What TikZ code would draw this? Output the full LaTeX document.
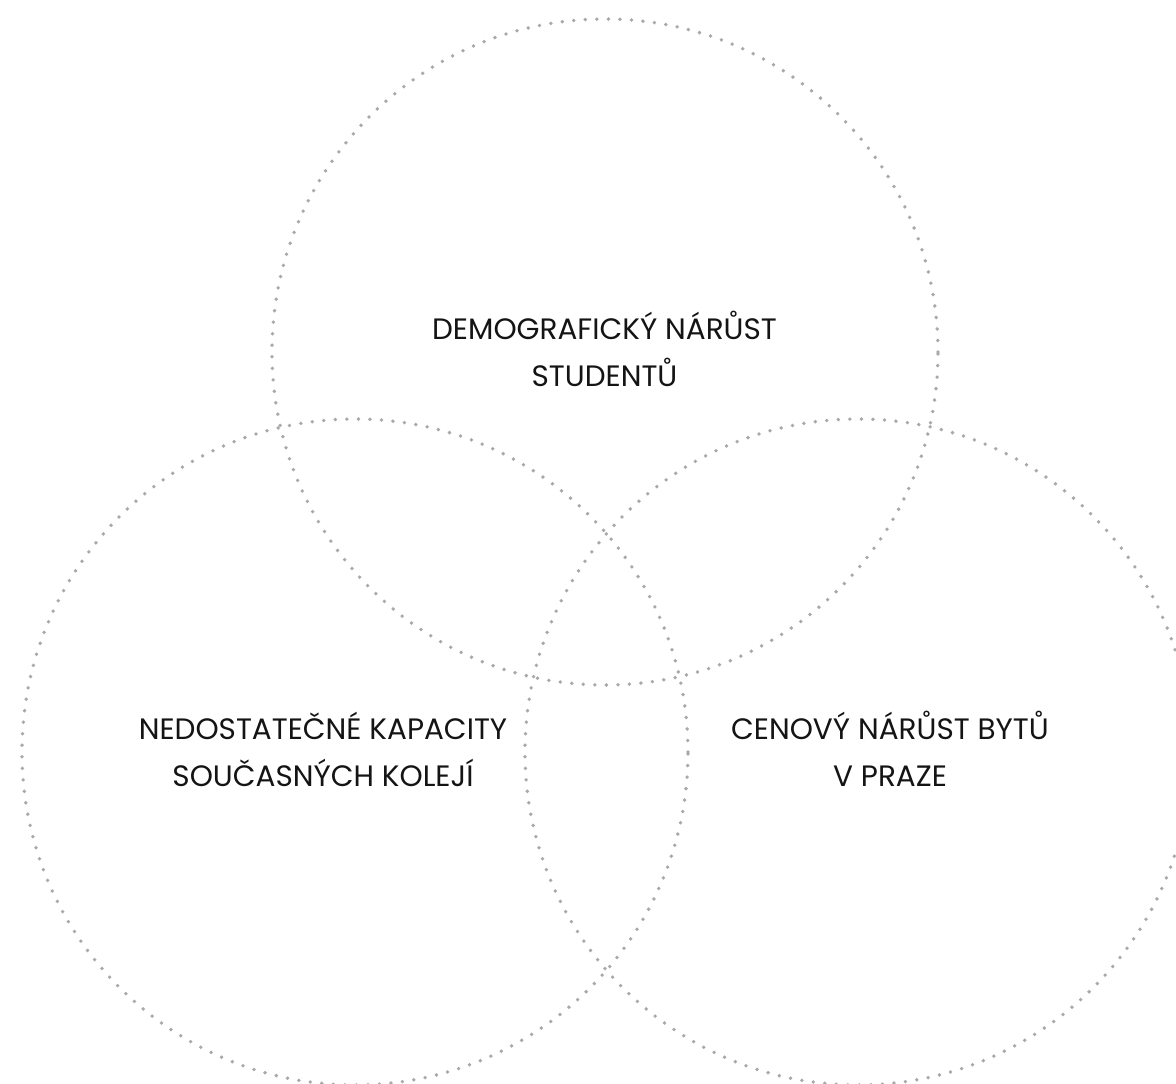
\documentclass[tikz,border=0pt]{standalone}
\usepackage{fontspec}
\setmainfont{Poppins}
\definecolor{dotgray}{HTML}{A9A9A9}
\definecolor{ink}{HTML}{141414}
\tikzset{
  venn/.style={circle, draw=dotgray, line width=3.8pt, line cap=round,
    dash pattern=on 0pt off 11.55pt, minimum size=666pt, inner sep=0pt, outer sep=0pt},
  lbl/.style={anchor=base, inner sep=0pt, font=\fontsize{29.5}{35}\selectfont, text=ink}
}
\begin{document}
\begin{tikzpicture}[x=1pt,y=-1pt]
\useasboundingbox (0,0) rectangle (1176,1084);
\fill[white] (0,0) rectangle (1176,1084);
\clip (0,0) rectangle (1176,1084);
\node[venn] (ctop) at (605,352) {};
\node[venn] (cleft) at (355,752) {};
\node[venn] (cright) at (858,752) {};
\node[lbl] (top1) at (604.5,339) {DEMOGRAFICKÝ NÁRŮST};
\node[lbl] (top2) at (604.5,386) {STUDENTŮ};
\node[lbl] (left1) at (323,739) {NEDOSTATEČNÉ KAPACITY};
\node[lbl] (left2) at (323,786) {SOUČASNÝCH KOLEJÍ};
\node[lbl] (right1) at (890,739) {CENOVÝ NÁRŮST BYTŮ};
\node[lbl] (right2) at (890,786) {V PRAZE};
\end{tikzpicture}
\end{document}
